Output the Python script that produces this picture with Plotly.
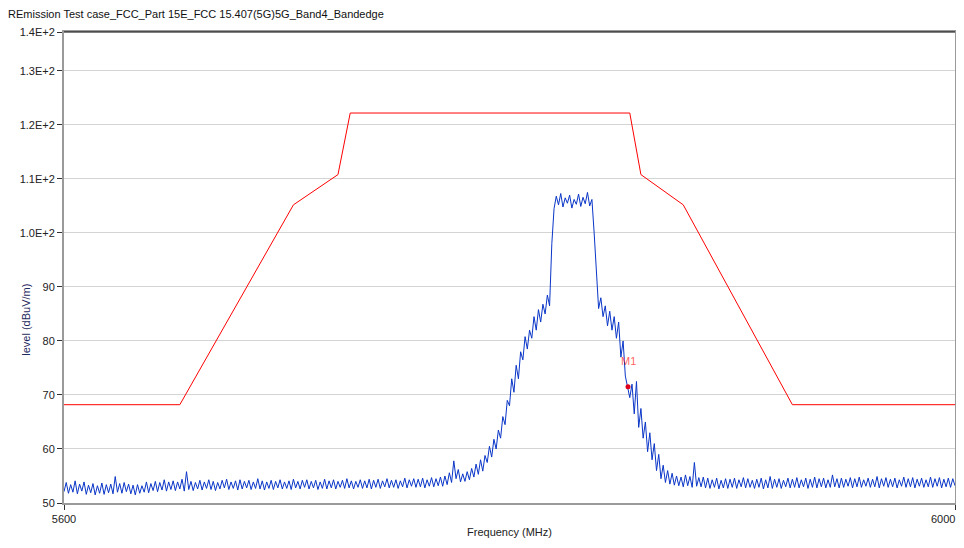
import plotly.graph_objects as go

# ---------------- data ----------------
title_text = "REmission Test case_FCC_Part 15E_FCC 15.407(5G)5G_Band4_Bandedge"

# limit line (red)
limit_freq_mhz = [5600, 5652, 5703, 5723, 5728.5, 5854, 5859, 5878, 5927, 6000]
limit_level = [68.2, 68.2, 105.2, 110.8, 122.2, 122.2, 110.8, 105.2, 68.2, 68.2]

trace_start_mhz = 5600
trace_level = [
    52.1, 53.8, 51.8, 53.4, 52.0, 54.1, 51.7, 53.5, 52.2, 53.9,
    51.6, 53.3, 51.9, 53.6, 51.5, 53.2, 51.8, 53.7, 51.6, 53.4,
    51.9, 53.5, 51.7, 54.9, 52.0, 53.6, 51.8, 53.8, 52.1, 53.5,
    51.7, 53.3, 51.5, 53.4, 51.8, 53.2, 52.0, 53.9, 51.9, 53.6,
    52.3, 54.0, 52.1, 53.8, 52.4, 54.3, 52.2, 53.9, 52.5, 54.1,
    52.3, 53.9, 52.6, 54.4, 52.2, 55.8, 52.5, 54.0, 52.3, 53.8,
    52.6, 54.2, 52.4, 53.9, 52.7, 54.3, 52.5, 54.0, 52.3, 53.8,
    52.6, 54.2, 52.8, 54.4, 52.5, 53.9, 52.7, 54.1, 52.4, 54.3,
    52.6, 54.0, 52.8, 54.2, 52.5, 53.9, 52.7, 54.5, 52.6, 54.1,
    52.4, 53.9, 52.7, 54.2, 52.5, 54.0, 52.8, 54.3, 52.6, 53.9,
    52.7, 54.1, 52.5, 54.4, 52.8, 54.0, 52.6, 54.2, 52.9, 54.3,
    52.6, 54.0, 52.8, 54.2, 52.5, 53.9, 52.7, 54.4, 52.6, 54.1,
    52.8, 54.3, 52.6, 54.0, 52.9, 54.2, 52.7, 54.5, 52.8, 54.1,
    52.6, 54.0, 52.9, 54.3, 52.7, 54.1, 52.8, 54.4, 52.6, 54.2,
    52.9, 54.4, 52.7, 54.1, 53.0, 54.5, 52.8, 54.2, 52.9, 54.3,
    52.7, 54.1, 53.0, 54.6, 52.8, 54.3, 53.1, 54.5, 52.9, 54.4,
    53.0, 54.6, 52.8, 54.3, 53.1, 54.7, 53.0, 54.5, 53.2, 54.8,
    53.1, 55.0, 53.4, 55.6, 53.8, 57.8, 54.5, 56.2, 53.9, 55.4,
    54.0, 55.8, 54.3, 56.4, 54.8, 57.2, 55.3, 58.0, 55.9, 58.8,
    57.5, 60.5, 58.5, 61.8, 60.0, 63.5, 62.0, 66.0, 64.5, 69.0,
    68.0, 73.0, 70.5, 75.5, 73.0, 78.0, 76.5, 80.8, 78.5, 82.0,
    80.5, 84.5, 82.0, 85.8, 83.5, 86.8, 85.0, 88.5, 86.5, 98.0,
    104.5, 106.8, 105.2, 107.3, 104.8, 106.5, 105.5, 107.0, 104.6, 106.2,
    105.3, 107.2, 104.9, 106.6, 105.4, 107.5, 105.0, 106.2, 100.0, 92.5,
    86.0, 88.0, 84.5, 86.5, 82.8, 85.5, 82.0, 84.5, 80.5, 83.5,
    77.0, 80.0, 73.5, 71.5, 69.5, 72.0, 66.5, 72.5, 64.0, 67.5,
    62.0, 65.0, 59.5, 63.0, 58.0, 61.0, 56.0, 59.0, 54.5, 57.0,
    53.8, 56.0, 53.5, 55.5, 53.3, 55.0, 53.2, 54.8, 53.0, 55.2,
    53.2, 54.9, 52.9, 57.5, 53.1, 54.7, 53.0, 54.8, 52.8, 54.6,
    52.7, 54.3, 52.9, 54.6, 52.6, 54.2, 52.8, 54.5, 52.7, 54.4,
    52.9, 54.6, 52.7, 54.3, 53.0, 54.7, 52.8, 54.5, 52.9, 54.2,
    52.7, 54.4, 52.9, 54.6, 52.6, 54.3, 52.8, 54.9, 52.7, 54.4,
    52.9, 54.5, 52.7, 54.2, 53.0, 54.6, 52.8, 54.4, 52.9, 54.7,
    52.8, 54.3, 53.0, 54.6, 52.7, 54.4, 52.9, 54.8, 52.8, 54.5,
    53.0, 54.6, 52.8, 54.3, 52.9, 55.2, 53.0, 54.5, 52.8, 54.6,
    52.9, 54.4, 53.1, 54.7, 52.8, 54.5, 53.0, 54.8, 52.9, 54.3,
    53.1, 54.6, 52.9, 54.4, 53.0, 54.9, 52.8, 54.5, 53.1, 54.7,
    52.9, 54.4, 53.0, 54.6, 52.8, 54.3, 53.1, 54.8, 52.9, 54.5,
    53.0, 54.7, 52.8, 54.4, 53.1, 54.6, 52.9, 54.3, 53.0, 54.8,
    52.9, 54.5, 53.1, 54.7, 52.8, 54.4, 53.0, 54.6, 52.9, 54.5, 53.2,
]
trace_freq_mhz = [trace_start_mhz + i for i in range(len(trace_level))]

marker_freq_mhz = [5853.2]
marker_level = [71.5]
marker_label = ["M1"]

y_tick_vals = [50, 60, 70, 80, 90, 100, 110, 120, 130, 137.2]
y_tick_text = ["50", "60", "70", "80", "90", "1.0E+2", "1.1E+2", "1.2E+2", "1.3E+2", "1.4E+2"]
x_tick_vals = [5600, 6000]
x_tick_text = ["5600", "6000"]

# ---------------- figure ----------------
FONT = "Liberation Sans Narrow, Liberation Sans, Arial, sans-serif"

fig = go.Figure()
fig.add_trace(go.Scatter(
    x=trace_freq_mhz, y=trace_level, mode="lines",
    line=dict(color="#0a36c8", width=1), hoverinfo="skip", showlegend=False))
fig.add_trace(go.Scatter(
    x=limit_freq_mhz, y=limit_level, mode="lines",
    line=dict(color="#ff0000", width=1), showlegend=False))
fig.add_trace(go.Scatter(
    x=marker_freq_mhz, y=marker_level, mode="markers",
    marker=dict(color="#e0001a", size=5), showlegend=False))

fig.add_annotation(x=marker_freq_mhz[0], y=marker_level[0], text=marker_label[0],
                   showarrow=False, yshift=26, xshift=0,
                   font=dict(family=FONT, size=11, color="rgba(255,40,40,0.75)"))

fig.add_annotation(text=title_text, xref="paper", yref="paper", x=0, y=1,
                   xanchor="left", yanchor="bottom", xshift=-58, yshift=10,
                   showarrow=False, font=dict(family=FONT, size=11, color="#111111"))

fig.add_annotation(text="level (dBuV/m)", xref="paper", yref="paper",
                   x=0, y=0.389, xshift=-46, textangle=-90, showarrow=False,
                   font=dict(family=FONT, size=11, color="#1f2a60"))

# right-hand tick label placed so that it stays inside the page
fig.add_annotation(text=x_tick_text[1], x=x_tick_vals[1], xref="x", yref="paper", y=0,
                   xanchor="right", yanchor="top", xshift=2, yshift=-8,
                   showarrow=False, font=dict(family=FONT, size=11, color="#222222"))

fig.add_shape(type="line", xref="paper", yref="paper", x0=0, x1=1, y0=1, y1=1,
              line=dict(color="#000000", width=1))

# the page body adds an 8 px offset, so the figure is 8 px smaller
fig.update_layout(
    width=956, height=540,
    margin=dict(l=56, r=9, t=24, b=45),
    paper_bgcolor="white", plot_bgcolor="white",
    font=dict(family=FONT, size=11, color="#222222"),
    xaxis=dict(
        range=[5600, 6000], tickvals=x_tick_vals, ticktext=[x_tick_text[0], ""],
        automargin=False,
        showgrid=False, zeroline=False, showline=True, linecolor="#9a9a9a",
        linewidth=2, mirror=True, ticks="outside", ticklen=5, tickcolor="#333333",
        tickfont=dict(family=FONT, size=11, color="#222222"),
        title=dict(text="Frequency (MHz)", standoff=4,
                   font=dict(family=FONT, size=11, color="#222222")),
    ),
    yaxis=dict(
        range=[50, 137.2], tickvals=y_tick_vals, ticktext=y_tick_text,
        automargin=False,
        showgrid=True, gridcolor="#d4d4d4", gridwidth=1, zeroline=False,
        showline=True, linecolor="#9a9a9a", linewidth=2, mirror=True,
        ticks="outside", ticklen=5, tickcolor="#333333",
        tickfont=dict(family=FONT, size=11, color="#222222"),
    ),
)

fig.write_html("out.html")
